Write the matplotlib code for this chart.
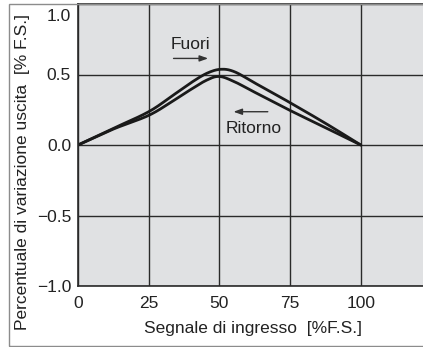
'''
Isteresi: percentuale di variazione uscita vs segnale di ingresso.
'''

import numpy as np
from matplotlib import pyplot as plt
from matplotlib import transforms
from matplotlib.patches import Rectangle


#(0) Data:
x_fuori   = [0, 12.5, 25, 33.7, 39.6, 45.5, 50.5, 55.4, 62.5, 69.7, 75, 87.5, 100]
y_fuori   = [0, 0.118, 0.236, 0.354, 0.437, 0.508, 0.537, 0.519, 0.440, 0.360, 0.300, 0.154, 0]
x_rit     = [0, 12.5, 25, 33.7, 39.6, 45.5, 50.0, 55.4, 62.5, 75, 87.5, 100]
y_ritorno = [0, 0.113, 0.210, 0.314, 0.390, 0.460, 0.486, 0.448, 0.374, 0.245, 0.123, 0]
xticks    = [0, 25, 50, 75, 100]
yticks    = [-1.0, -0.5, 0.0, 0.5, 1.0]
yticklab  = ['\u22121.0', '\u22120.5', '0.0', '0.5', '1.0']


def smooth(x, y, n=12):
	# Catmull-Rom through the read points, just to get a round line
	x = np.asarray(x, float); y = np.asarray(y, float)
	P  = np.column_stack([x, y])
	P  = np.vstack([2*P[0]-P[1], P, 2*P[-1]-P[-2]])
	out = []
	t  = np.linspace(0, 1, n, endpoint=False)[:, None]
	for i in range(1, len(P)-2):
		p0, p1, p2, p3 = P[i-1], P[i], P[i+1], P[i+2]
		out.append(0.5*((2*p1) + (-p0+p2)*t + (2*p0-5*p1+4*p2-p3)*t**2 + (-p0+3*p1-3*p2+p3)*t**3))
	out.append(P[-2][None, :])
	out = np.vstack(out)
	return out[:, 0], out[:, 1]


#(1) Plot:
plt.close('all')
plt.rcParams['font.family'] = ['Liberation Sans', 'DejaVu Sans']
fs  = 12.5
fig = plt.figure(figsize=(4.23, 3.47), dpi=100)
fig.patches.append(Rectangle((9/423, 1/347), 1.0, 342/347, transform=fig.transFigure,
	fill=False, ec='0.55', lw=1.0))
ax  = fig.add_axes([78/423, 61/347, 345/423, 282/347])
ax.set_facecolor('#e0e1e3')
ax.set_xlim(0, 122)
ax.set_ylim(-1.0, 1.0)
ax.set_xticks(xticks)
ax.set_yticks(yticks)
ax.set_yticklabels(yticklab)
ax.tick_params(length=0, labelsize=fs, colors='#222222')
ax.tick_params(axis='x', pad=7)
ax.tick_params(axis='y', pad=5)
ax.grid(True, color='#2a2a2a', lw=1.0)
ax.set_axisbelow(True)
for s in ['left', 'top', 'bottom']:
	ax.spines[s].set_color('#2a2a2a')
	ax.spines[s].set_linewidth(1.2)
ax.spines['right'].set_visible(False)

# top label sits under its grid line
lab = ax.get_yticklabels()[-1]
lab.set_va('top')
lab.set_transform(lab.get_transform() + transforms.ScaledTranslation(0, -0.05, fig.dpi_scale_trans))

xs, ys = smooth(x_fuori, y_fuori)
ax.plot(xs, ys, color='#1a1a1a', lw=2.0, solid_capstyle='round')
xs, ys = smooth(x_rit, y_ritorno)
ax.plot(xs, ys, color='#1a1a1a', lw=2.0, solid_capstyle='round')

ax.text(39.6, 0.71, 'Fuori', size=fs, ha='center', va='center', color='#222222')
ax.annotate('', xy=(47, 0.614), xytext=(32.8, 0.614),
	arrowprops=dict(arrowstyle='-|>,head_length=0.5,head_width=0.18', color='#333333', lw=1.0))
ax.text(62, 0.118, 'Ritorno', size=fs, ha='center', va='center', color='#222222')
ax.annotate('', xy=(54, 0.236), xytext=(68.1, 0.236),
	arrowprops=dict(arrowstyle='-|>,head_length=0.5,head_width=0.18', color='#333333', lw=1.0))

fig.text(23/423, 1-172/347, 'Percentuale di variazione uscita  [% F.S.]', size=fs,
	rotation=90, ha='center', va='center', color='#222222')
fig.text(253/423, 1-328/347, 'Segnale di ingresso  [%F.S.]', size=fs,
	ha='center', va='center', color='#222222')

plt.savefig('out.png', dpi=100)
